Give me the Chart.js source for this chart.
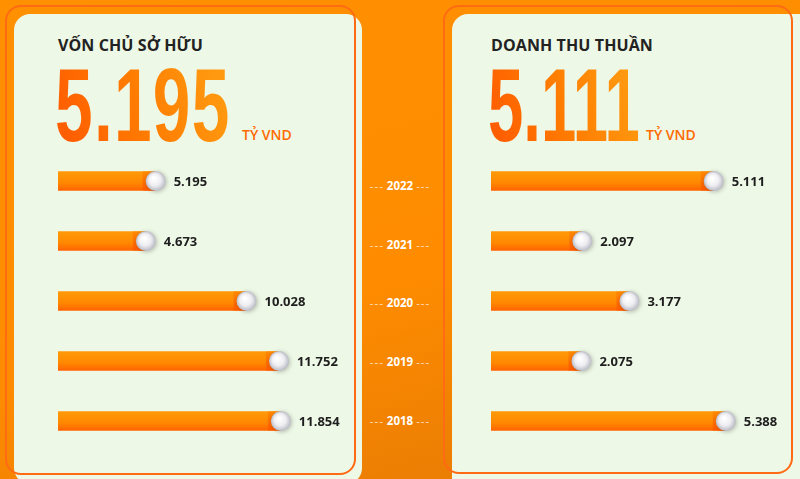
<!DOCTYPE html>
<html>
<head>
<meta charset="utf-8">
<script src="https://cdn.jsdelivr.net/npm/chart.js@4"></script>
<style>
  html, body { margin: 0; padding: 0; }
  body {
    width: 800px; height: 479px; overflow: hidden; position: relative;
    background: linear-gradient(165deg, #ff9000 0%, #ff8c00 55%, #e27805 100%);
    font-family: "Open Sans", sans-serif;
  }
  .fill { position: absolute; background: #eef8e6; border-radius: 16px; }
  .outline { position: absolute; border: 2px solid #ff6a14; border-radius: 16px; box-sizing: border-box; }
  .title { position: absolute; top: 34px; font-weight: 700; font-size: 16px; color: #222; letter-spacing: 0.1px; }
  .big {
    position: absolute; top: 53px; font-family: "Liberation Sans", Arial, sans-serif;
    font-weight: 700; font-size: 104px; line-height: 104px; letter-spacing: 2px;
    transform: scaleX(0.65); transform-origin: left top;
    background: linear-gradient(60deg, #ff5e00 10%, #ff7a00 45%, #ff9a10 90%);
    -webkit-background-clip: text; background-clip: text; color: transparent;
  }
  .unit { position: absolute; top: 125px; font-weight: 600; font-size: 14px; color: #ff6a00; }
  .year {
    position: absolute; left: 360px; width: 80px; text-align: center;
    font-size: 11.5px; font-weight: 700; color: #fff; line-height: 14px;
  }
  .year span { color: rgba(255,255,255,0.75); font-weight: 400; letter-spacing: 1px; }
  canvas { position: absolute; }
</style>
</head>
<body>
<div class="fill" style="left:14px; top:14px; width:348px; height:470px;"></div>
<div class="outline" style="left:5px; top:5px; width:351px; height:470px;"></div>
<div class="fill" style="left:452px; top:14px; width:380px; height:480px;"></div>
<div class="outline" style="left:443px; top:5px; width:350px; height:469px;"></div>

<div class="title" style="left:58px;">VỐN CHỦ SỞ HỮU</div>
<div class="big" id="bigLeft" style="left:55px;"></div>
<div class="unit" style="left:242px;">TỶ VND</div>

<div class="title" style="left:491px;">DOANH THU THUẦN</div>
<div class="big" id="bigRight" style="left:488px; letter-spacing:0; transform:scaleX(0.61);"></div>
<div class="unit" style="left:646px;">TỶ VND</div>

<div id="years"></div>

<canvas id="chartLeft" width="342" height="300" style="left:58px; top:151px;"></canvas>
<canvas id="chartRight" width="305" height="300" style="left:491px; top:151px;"></canvas>

<script>
const years = ['2022', '2021', '2020', '2019', '2018'];
const vonChuSoHuu = [5.195, 4.673, 10.028, 11.752, 11.854];
const doanhThuThuan = [5.111, 2.097, 3.177, 2.075, 5.388];
const yearLabelTops = [179, 238, 296, 355, 414];

function fmt(v) {
    return v.toFixed(3);
}

document.getElementById('bigLeft').textContent = fmt(vonChuSoHuu[0]);
document.getElementById('bigRight').textContent = fmt(doanhThuThuan[0]);

const yearsBox = document.getElementById('years');
years.forEach((y, i) => {
    const d = document.createElement('div');
    d.className = 'year';
    d.style.top = yearLabelTops[i] + 'px';
    d.innerHTML = '<span>---</span> ' + y + ' <span>---</span>';
    yearsBox.appendChild(d);
});

function barGradient(context) {
    const chart = context.chart;
    const yScale = chart.scales.y;
    if (!yScale) return '#ff8a00';
    const y = yScale.getPixelForValue(context.dataIndex);
    if (!isFinite(y)) return '#ff8a00';
    const g = chart.ctx.createLinearGradient(0, y - 9.5, 0, y + 9.5);
    g.addColorStop(0, '#ff9a0a');
    g.addColorStop(0.6, '#ff8800');
    g.addColorStop(1, '#ff6400');
    return g;
}

// knob + value label at the end of every bar
const knobPlugin = {
    id: 'knob',
    afterDatasetsDraw(chart) {
        const ctx = chart.ctx;
        const meta = chart.getDatasetMeta(0);
        const values = chart.data.datasets[0].data;
        meta.data.forEach((bar, i) => {
            const x = bar.x, y = bar.y;
            ctx.save();
            // darker block behind the knob
            const g = ctx.createLinearGradient(0, y - 9.5, 0, y + 9.5);
            g.addColorStop(0, '#ff8a00');
            g.addColorStop(1, '#ff5a00');
            ctx.fillStyle = g;
            ctx.fillRect(x - 13, y - 9.5, 13, 19);
            // knob
            ctx.shadowColor = 'rgba(0,0,0,0.25)';
            ctx.shadowBlur = 4;
            ctx.shadowOffsetX = 1;
            ctx.shadowOffsetY = 1;
            const r = 10;
            const rg = ctx.createRadialGradient(x - 2, y - 3, 1, x, y, r);
            rg.addColorStop(0, '#ffffff');
            rg.addColorStop(0.55, '#eeeef2');
            rg.addColorStop(1, '#b9bac4');
            ctx.fillStyle = rg;
            ctx.beginPath();
            ctx.arc(x, y, r, 0, Math.PI * 2);
            ctx.fill();
            ctx.restore();
            // value
            ctx.save();
            ctx.fillStyle = '#1e1e1e';
            ctx.font = '700 13px "Open Sans", sans-serif';
            ctx.textBaseline = 'middle';
            ctx.fillText(fmt(values[i]), x + 18, y + 1);
            ctx.restore();
        });
    }
};

function makeChart(id, data, maxValue, padRight) {
    return new Chart(document.getElementById(id), {
        type: 'bar',
        data: {
            labels: years,
            datasets: [{
                data: data,
                backgroundColor: barGradient,
                borderWidth: 0,
                barThickness: 19
            }]
        },
        options: {
            indexAxis: 'y',
            responsive: false,
            animation: false,
            layout: { padding: { left: 0, right: padRight, top: 0, bottom: 0 } },
            plugins: {
                legend: { display: false },
                tooltip: { enabled: false }
            },
            scales: {
                x: { display: false, min: 0, max: maxValue },
                y: { display: false }
            }
        },
        plugins: [knobPlugin]
    });
}

makeChart('chartLeft', vonChuSoHuu, 15, 60);
makeChart('chartRight', doanhThuThuan, 7, 0);
</script>
</body>
</html>
